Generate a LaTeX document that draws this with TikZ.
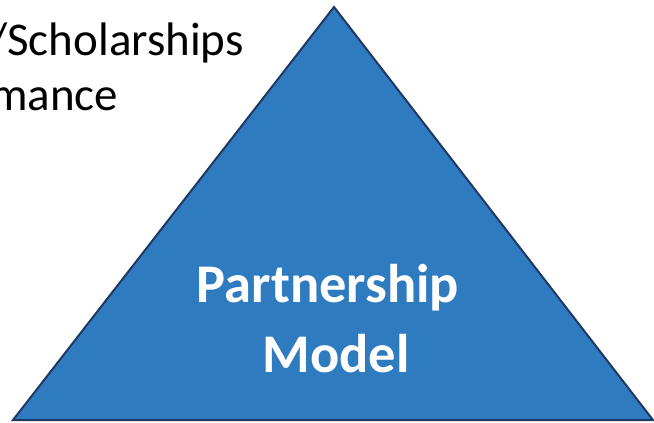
\documentclass[tikz,border=0pt]{standalone}
\usepackage{fontspec}
\setmainfont{Carlito}
\definecolor{triblue}{HTML}{2E7BC0}
\definecolor{triedge}{HTML}{1F3864}
\tikzset{
  tri/.style={fill=triblue, draw=triedge, line width=2bp, line join=miter},
  sidetext/.style={anchor=base west, inner sep=0pt, font=\fontsize{47bp}{55bp}\selectfont, text=black},
  titletext/.style={anchor=base, inner sep=0pt, font=\fontsize{54.5bp}{66bp}\selectfont\bfseries, text=white}
}
\begin{document}
\begin{tikzpicture}[x=1bp,y=1bp]
\useasboundingbox (0,0) rectangle (654,422);
\clip (0,0) rectangle (654,422);
\coordinate (apex) at (334,415);
\coordinate (bl) at (13,2);
\coordinate (br) at (653,2);
\draw[tri] (apex) -- (br) -- (bl) -- cycle;
\node[sidetext] (t1) at (-11,367) {/Scholarships};
\node[sidetext] (t2) at (-10,312) {mance};
\node[titletext] (p1) at (328,120) {Partnership};
\node[titletext] (p2) at (336,50) {Model};
\end{tikzpicture}
\end{document}
